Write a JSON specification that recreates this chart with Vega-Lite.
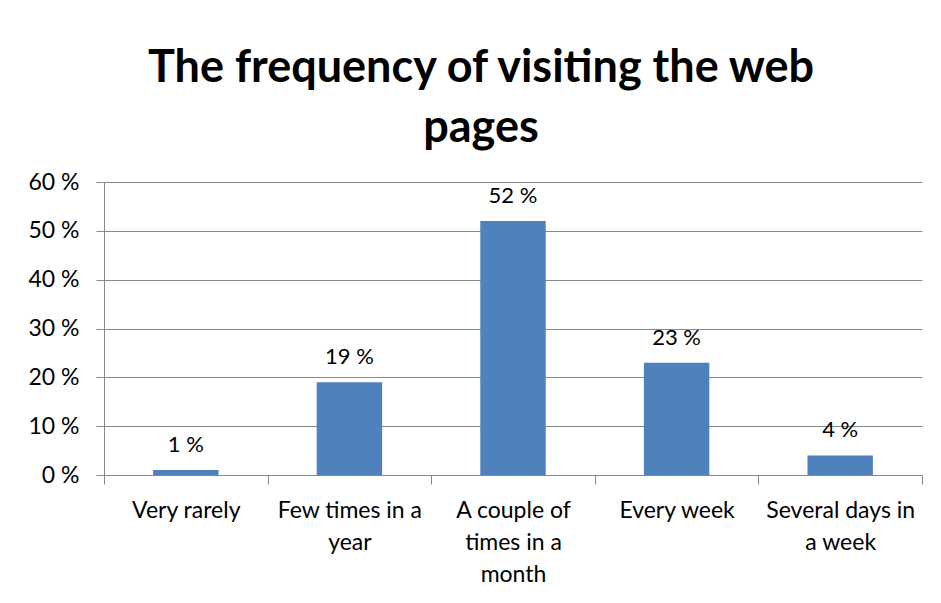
{
  "$schema": "https://vega.github.io/schema/vega-lite/v6.json",
  "width": 818,
  "height": 293,
  "autosize": {"type": "none"},
  "padding": {"left": 104, "top": 182, "right": 19, "bottom": 128},
  "background": "white",
  "title": {
    "text": ["The frequency of visiting the web", "pages"],
    "font": "Lato",
    "fontSize": 45,
    "fontWeight": "bold",
    "color": "black",
    "anchor": "middle",
    "dx": -32,
    "lineHeight": 60,
    "offset": 20
  },
  "data": {
    "values": [
      {"category": "Very rarely", "pct": 1},
      {"category": "Few times in a year", "pct": 19},
      {"category": "A couple of times in a month", "pct": 52},
      {"category": "Every week", "pct": 23},
      {"category": "Several days in a week", "pct": 4}
    ]
  },
  "transform": [{"calculate": "datum.pct + ' %'", "as": "label"}],
  "encoding": {
    "x": {
      "field": "category",
      "type": "nominal",
      "sort": null,
      "scale": {"paddingInner": 0, "paddingOuter": 0},
      "axis": {
        "title": null,
        "labelAngle": 0,
        "tickBand": "extent",
        "tickSize": 9,
        "tickColor": "#888888",
        "domainColor": "#888888",
        "labelPadding": 15,
        "labelFont": "Lato",
        "labelFontSize": 23,
        "labelColor": "black",
        "labelLineHeight": 32,
        "labelBaseline": "top",
        "labelLimit": 0,
        "labelExpr": "datum.value == 'Few times in a year' ? ['Few times in a', 'year'] : datum.value == 'A couple of times in a month' ? ['A couple of', 'times in a', 'month'] : datum.value == 'Several days in a week' ? ['Several days in', 'a week'] : datum.value"
      }
    },
    "y": {
      "field": "pct",
      "type": "quantitative",
      "scale": {"domain": [0, 60], "nice": false},
      "axis": {
        "title": null,
        "values": [0, 10, 20, 30, 40, 50, 60],
        "labelExpr": "datum.value + ' %'",
        "grid": true,
        "gridColor": "#888888",
        "tickSize": 8,
        "tickColor": "#888888",
        "domainColor": "#888888",
        "labelPadding": 17,
        "labelFont": "Lato",
        "labelFontSize": 23,
        "labelColor": "black"
      }
    }
  },
  "layer": [
    {"mark": {"type": "bar", "color": "#4F81BD", "width": {"band": 0.4}}},
    {
      "mark": {"type": "text", "baseline": "bottom", "dy": -13, "font": "Lato", "fontSize": 22, "color": "black"},
      "encoding": {"text": {"field": "label"}}
    }
  ],
  "config": {"view": {"stroke": null}}
}
